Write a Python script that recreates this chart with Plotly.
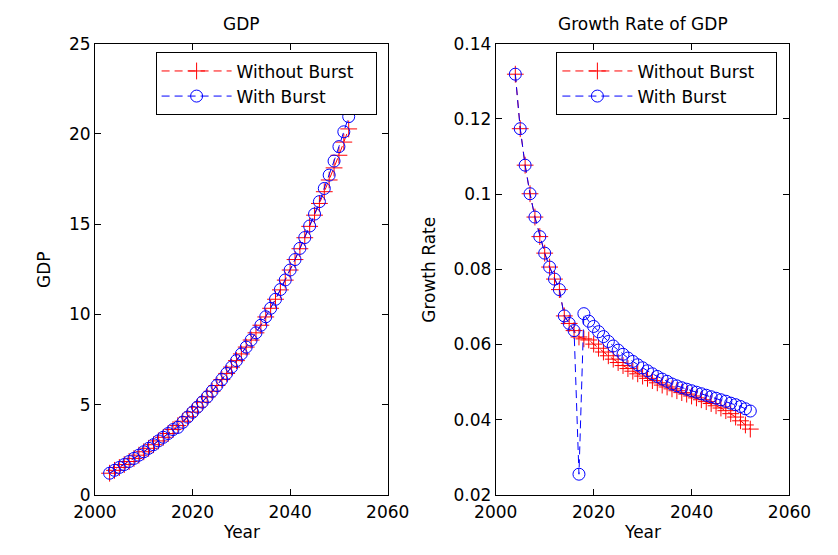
import plotly.graph_objects as go

years_gdp = list(range(2003, 2053))
gdp_without = [1.20, 1.36, 1.52, 1.68, 1.85, 2.02, 2.20, 2.39, 2.58, 2.78,
               2.99, 3.19, 3.40, 3.62, 3.84, 4.08, 4.33, 4.59, 4.86, 5.14,
               5.43, 5.74, 6.06, 6.39, 6.73, 7.08, 7.44, 7.81, 8.19, 8.58,
               8.98, 9.40, 9.86, 10.34, 10.84, 11.36, 11.90, 12.46, 13.04, 13.64,
               14.25, 14.88, 15.50, 16.15, 16.80, 17.45, 18.12, 18.82, 19.55, 20.28]
gdp_with = [1.20, 1.36, 1.52, 1.68, 1.85, 2.02, 2.20, 2.39, 2.58, 2.78,
            2.99, 3.19, 3.40, 3.62, 3.74, 4.02, 4.31, 4.58, 4.86, 5.14,
            5.43, 5.74, 6.06, 6.39, 6.73, 7.08, 7.44, 7.81, 8.19, 8.58,
            8.98, 9.40, 9.87, 10.34, 10.84, 11.38, 11.91, 12.46, 13.04, 13.66,
            14.26, 14.90, 15.56, 16.25, 16.98, 17.72, 18.50, 19.30, 20.12, 20.96]

years_rate = list(range(2004, 2053))
rate_without = [0.1319, 0.1174, 0.1077, 0.1001, 0.0939, 0.0887, 0.0843, 0.0806, 0.0774, 0.0746,
                0.0676, 0.0656, 0.0637, 0.0620, 0.0615, 0.0612, 0.0601, 0.0590, 0.0580, 0.0570,
                0.0561, 0.0552, 0.0544, 0.0536, 0.0529, 0.0522, 0.0516, 0.0510, 0.0504, 0.0498,
                0.0492, 0.0487, 0.0482, 0.0477, 0.0472, 0.0468, 0.0463, 0.0458, 0.0453, 0.0448,
                0.0443, 0.0437, 0.0431, 0.0424, 0.0416, 0.0407, 0.0397, 0.0386, 0.0375]
rate_with = [0.1319, 0.1174, 0.1077, 0.1001, 0.0939, 0.0887, 0.0843, 0.0806, 0.0774, 0.0746,
             0.0676, 0.0656, 0.0637, 0.0255, 0.0682, 0.0662, 0.0648, 0.0634, 0.0621, 0.0608,
             0.0596, 0.0585, 0.0574, 0.0564, 0.0555, 0.0546, 0.0538, 0.0530, 0.0522, 0.0515,
             0.0508, 0.0502, 0.0495, 0.0490, 0.0485, 0.0481, 0.0477, 0.0473, 0.0469, 0.0465,
             0.0461, 0.0457, 0.0453, 0.0449, 0.0444, 0.0440, 0.0435, 0.0429, 0.0423]

x_ticks = [2000, 2020, 2040, 2060]
gdp_ticks = [0, 5, 10, 15, 20, 25]
rate_ticks = [0.02, 0.04, 0.06, 0.08, 0.10, 0.12, 0.14]
rate_tick_text = ["0.02", "0.04", "0.06", "0.08", "0.1", "0.12", "0.14"]

names = ["Without Burst", "With Burst"]
FONT = "DejaVu Sans"
FS = 17
PAD = "\u00a0" * 3

W, H = 838, 555
L1, R1 = 77, 386
L2, R2 = 500, 810
TOP, BOT = 35, 503

def px(v):
    return v / W

def py(v):
    return 1 - v / H

red_style = dict(mode="lines+markers", line=dict(color="#ff0000", width=1, dash="8px,5px"),
                 marker=dict(symbol="cross-thin-open", size=12, color="#ff0000",
                             line=dict(color="#ff0000", width=1)))
blue_style = dict(mode="lines+markers", line=dict(color="#0000ff", width=1, dash="8px,5px"),
                  marker=dict(symbol="circle-open", size=12, color="#0000ff",
                              line=dict(color="#0000ff", width=1)))

fig = go.Figure()
fig.add_trace(go.Scatter(x=years_gdp, y=gdp_without, name=names[0] + PAD, xaxis="x", yaxis="y",
                         legend="legend", **red_style))
fig.add_trace(go.Scatter(x=years_gdp, y=gdp_with, name=names[1] + PAD, xaxis="x", yaxis="y",
                         legend="legend", **blue_style))
fig.add_trace(go.Scatter(x=years_rate, y=rate_without, name=names[0] + PAD, xaxis="x2", yaxis="y2",
                         legend="legend2", **red_style))
fig.add_trace(go.Scatter(x=years_rate, y=rate_with, name=names[1] + PAD, xaxis="x2", yaxis="y2",
                         legend="legend2", **blue_style))

axis_common = dict(showline=True, linecolor="black", linewidth=1, mirror="ticks",
                   ticks="inside", ticklen=6, tickcolor="black", tickwidth=1,
                   showgrid=False, zeroline=False,
                   tickfont=dict(family=FONT, size=FS, color="black"))

fig.update_layout(
    width=W, height=H, autosize=False,
    margin=dict(l=0, r=0, t=0, b=0),
    paper_bgcolor="white", plot_bgcolor="white",
    font=dict(family=FONT, size=FS, color="black"),
    xaxis=dict(domain=[px(L1), px(R1)], range=[2000, 2060], tickvals=x_ticks, anchor="y",
               ticklabelstandoff=2, **axis_common),
    yaxis=dict(domain=[py(BOT), py(TOP)], range=[0, 25], tickvals=gdp_ticks, anchor="x", **axis_common),
    xaxis2=dict(domain=[px(L2), px(R2)], range=[2000, 2060], tickvals=x_ticks, anchor="y2",
                ticklabelstandoff=2, **axis_common),
    yaxis2=dict(domain=[py(BOT), py(TOP)], range=[0.02, 0.14], tickvals=rate_ticks,
                ticktext=rate_tick_text, anchor="x2", **axis_common),
    legend=dict(x=px(141), y=py(44), xanchor="left", yanchor="top", bgcolor="white",
                bordercolor="black", borderwidth=1, itemwidth=70,
                font=dict(family=FONT, size=FS, color="black")),
    legend2=dict(x=px(564), y=py(44), xanchor="left", yanchor="top", bgcolor="white",
                 bordercolor="black", borderwidth=1, itemwidth=70,
                 font=dict(family=FONT, size=FS, color="black")),
    showlegend=True,
)

ann_font = dict(family=FONT, size=FS, color="black")
annotations = [
    dict(text="GDP", x=px((L1 + R1) / 2), y=py(15), xref="paper", yref="paper",
         showarrow=False, font=ann_font, xanchor="center", yanchor="middle"),
    dict(text="Growth Rate of GDP", x=px((L2 + R2) / 2), y=py(15), xref="paper", yref="paper",
         showarrow=False, font=ann_font, xanchor="center", yanchor="middle"),
    dict(text="Year", x=px((L1 + R1) / 2), y=py(541), xref="paper", yref="paper",
         showarrow=False, font=ann_font, xanchor="center", yanchor="middle"),
    dict(text="Year", x=px((L2 + R2) / 2), y=py(541), xref="paper", yref="paper",
         showarrow=False, font=ann_font, xanchor="center", yanchor="middle"),
    dict(text="GDP", x=px(24), y=py((TOP + BOT) / 2), xref="paper", yref="paper",
         showarrow=False, font=ann_font, textangle=-90, xanchor="center", yanchor="middle"),
    dict(text="Growth Rate", x=px(430), y=py((TOP + BOT) / 2), xref="paper", yref="paper",
         showarrow=False, font=ann_font, textangle=-90, xanchor="center", yanchor="middle"),
]
fig.update_layout(annotations=annotations)

fig.write_html("out.html")
